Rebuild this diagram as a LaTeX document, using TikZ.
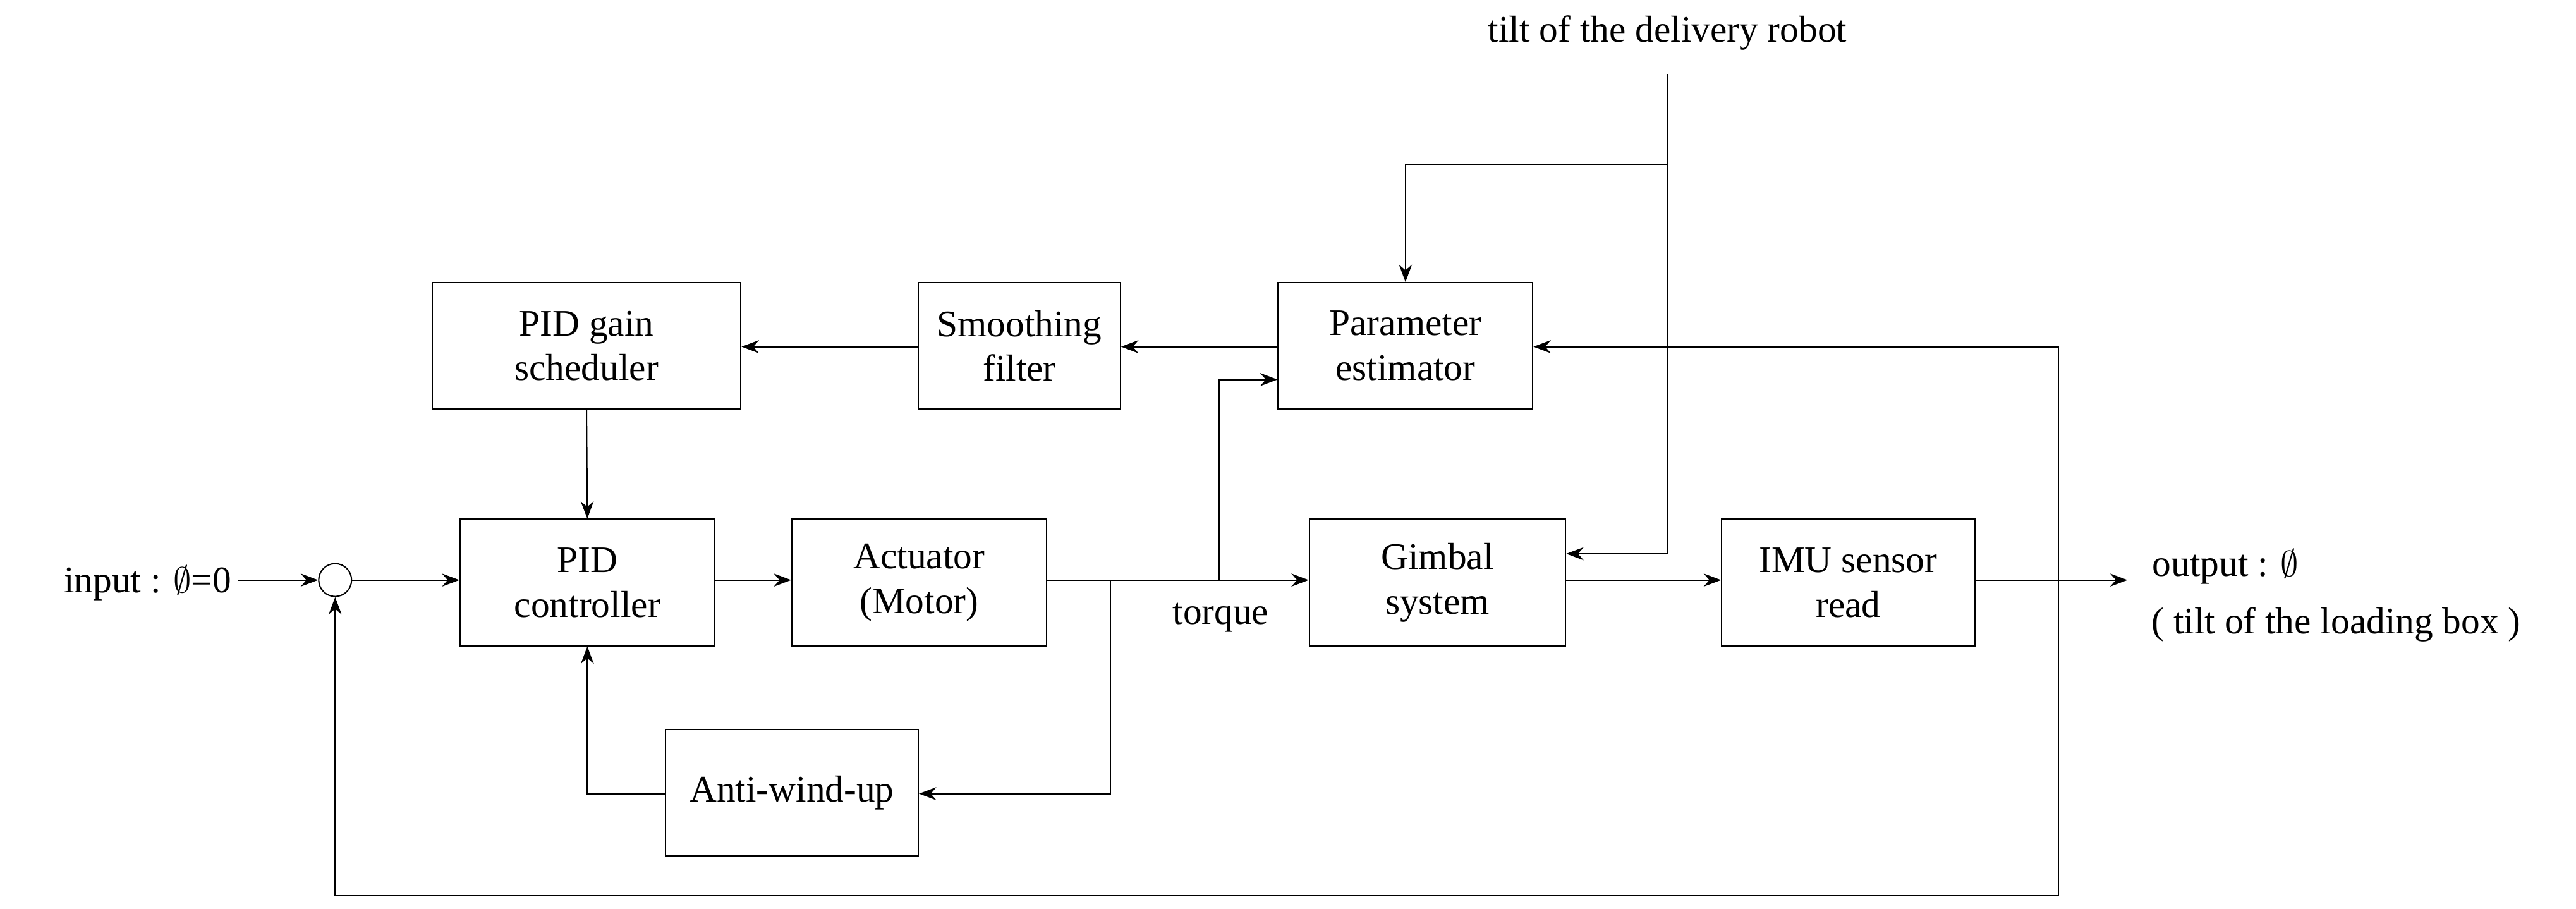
\documentclass[tikz,border=0pt]{standalone}
\usepackage{fontspec}
\setmainfont{Liberation Serif}
\usetikzlibrary{arrows.meta}
\begin{document}
\begin{tikzpicture}[x=0.04cm,y=-0.04cm,
  blk/.style={draw,line width=0.9pt,inner sep=0pt,align=center,font=\fontsize{26}{31}\selectfont},
  lbl/.style={font=\fontsize{26}{31}\selectfont,inner sep=0pt},
  con/.style={line width=0.9pt,-{Stealth[length=12pt,width=9pt]}},
  ln/.style={line width=0.9pt}]
\useasboundingbox (0,0) rectangle (1568,553);
\node[blk,minimum width=188*0.04cm,minimum height=77*0.04cm] (gs) at (357,210.5) {PID gain\\scheduler};
\node[blk,minimum width=123*0.04cm,minimum height=77*0.04cm] (sf) at (620.5,210.5) {Smoothing\\filter};
\node[blk,minimum width=155*0.04cm,minimum height=77*0.04cm] (pe) at (855.5,210.5) {Parameter\\estimator};
\node[blk,minimum width=155*0.04cm,minimum height=77*0.04cm] (pid) at (357.5,354.5) {PID\\controller};
\node[blk,minimum width=155*0.04cm,minimum height=77*0.04cm] (act) at (559.5,354.5) {Actuator\\(Motor)};
\node[blk,minimum width=156*0.04cm,minimum height=77*0.04cm] (gim) at (875,354.5) {Gimbal\\system};
\node[blk,minimum width=154*0.04cm,minimum height=77*0.04cm] (imu) at (1125,354.5) {IMU sensor\\read};
\node[blk,minimum width=154*0.04cm,minimum height=77*0.04cm] (aw) at (482,482.5) {Anti-wind-up};
\node[draw,circle,line width=0.9pt,minimum size=20*0.04cm,inner sep=0pt] (sum) at (204,353) {};
\node[lbl,anchor=east] (in) at (141,355) {input : $\emptyset$=0};
\node[lbl,anchor=west] (out1) at (1310,345) {output : $\emptyset$};
\node[lbl] (out2) at (1422,380) {( tilt of the loading box )};
\node[lbl] (tilt) at (1015,20) {tilt of the delivery robot};
\node[lbl] (tq) at (743,376) {torque};
\coordinate (inE) at (145,353);
\coordinate (outE) at (1295,353);
\coordinate (j1) at (742,353);
\coordinate (j2) at (676,353);
\coordinate (j3) at (1253,353);
\coordinate (t0) at (1015,45);
\coordinate (t1) at (1015,100);
\draw[con] (inE) -- (sum);
\draw[con] (sum) -- (pid.west |- sum);
\draw[con] (pid.east |- 0,353) -- (act.west |- 0,353);
\draw[con] (act.east |- 0,353) -- (gim.west |- 0,353);
\draw[con] (gim.east |- 0,353) -- (imu.west |- 0,353);
\draw[con] (imu.east |- 0,353) -- (outE);
\draw[con] (j1) |- (pe.west |- 0,231);
\draw[con] (j2) |- (aw.east |- 0,483);
\draw[con] (aw.west |- 0,483) -| (pid.south);
\draw[con] (gs.south) -- (pid.north);
\draw[con] (pe.west |- 0,211) -- (sf.east |- 0,211);
\draw[con] (sf.west |- 0,211) -- (gs.east |- 0,211);
\draw[con] (j3) -- (1253,545) -| (sum.south);
\draw[con] (j3) |- (pe.east |- 0,211);
\draw[con] (t0) |- (gim.east |- 0,337);
\draw[con] (t1) -| (pe.north);
\end{tikzpicture}
\end{document}
